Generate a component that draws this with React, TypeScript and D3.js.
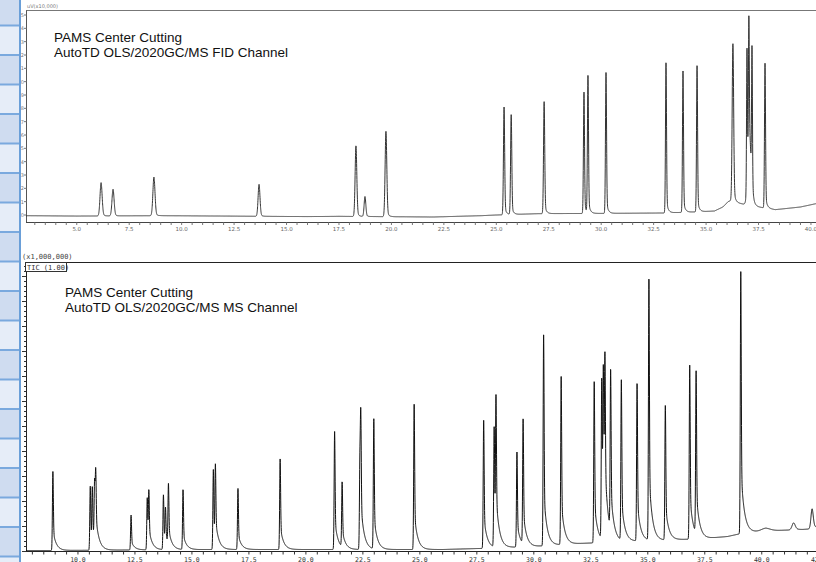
import React, { useMemo } from 'react';
import * as d3 from 'd3';

// FID channel: retention time (min), height above baseline (uV x10,000), peak sigma (min)
const fidTimes = [6.16, 6.73, 8.68, 13.69, 18.31, 18.74, 19.74, 25.37, 25.71, 27.28, 29.18, 29.37, 30.23, 33.09, 33.9, 34.57, 36.28, 36.95, 37.04, 37.19, 37.07, 37.81];
const fidHeights = [0.25, 0.2, 0.29, 0.24, 0.53, 0.15, 0.64, 0.81, 0.75, 0.84, 0.91, 1.03, 1.06, 1.13, 1.06, 1.1, 1.18, 1.02, 0.94, 1.03, 0.48, 1.09];
const fidWidths = [0.05, 0.05, 0.05, 0.045, 0.04, 0.04, 0.04, 0.028, 0.028, 0.028, 0.025, 0.025, 0.025, 0.024, 0.024, 0.024, 0.035, 0.02, 0.02, 0.02, 0.08, 0.024];
const fidBaseTimes = [2.58, 5, 9, 12, 16, 17.5, 22, 24.3, 25, 27, 30, 33, 34.8, 35.4, 35.8, 36.05, 36.2, 36.5, 37.5, 38.3, 39.5, 40.24];
const fidBaseValues = [-0.005, -0.008, -0.005, -0.008, -0.012, -0.01, -0.015, -0.005, 0, 0.01, 0.012, 0.015, 0.025, 0.03, 0.06, 0.1, 0.11, 0.09, 0.06, 0.04, 0.06, 0.085];
const fidTicks = [5, 7.5, 10, 12.5, 15, 17.5, 20, 22.5, 25, 27.5, 30, 32.5, 35, 37.5, 40];
const fidYTicks = [0, 0.1, 0.2, 0.3, 0.4, 0.5, 0.6, 0.7, 0.8, 0.9, 1.0, 1.1, 1.2, 1.3, 1.4, 1.5];

// MS channel (TIC): retention time (min), height above baseline (x1,000,000), peak sigma (min)
const msTimes = [8.9, 10.54, 10.63, 10.73, 10.78, 12.33, 13.04, 13.11, 13.75, 13.84, 13.97, 14.61, 15.94, 16.03, 17.02, 18.87, 21.26, 21.59, 22.37, 22.41, 22.98, 24.75, 27.8, 28.26, 28.34, 29.26, 29.53, 30.43, 31.2, 32.65, 32.98, 33.05, 33.12, 33.37, 33.84, 34.53, 35.05, 35.77, 36.84, 37.12, 39.08, 40.19, 41.4, 42.21];
const msHeights = [0.79, 0.64, 0.55, 0.58, 0.62, 0.35, 0.52, 0.52, 0.55, 0.35, 0.6, 0.6, 0.8, 0.75, 0.61, 0.91, 1.18, 0.65, 0.85, 1.15, 1.3, 1.46, 1.28, 1.2, 1.35, 0.95, 1.25, 2.12, 1.68, 1.62, 1.6, 1.5, 1.5, 1.6, 1.6, 1.58, 2.62, 1.35, 1.74, 1.62, 2.62, 0.03, 0.07, 0.2];
const msWidths = [0.02, 0.02, 0.02, 0.02, 0.02, 0.02, 0.02, 0.02, 0.02, 0.02, 0.02, 0.02, 0.02, 0.02, 0.02, 0.02, 0.02, 0.02, 0.02, 0.02, 0.02, 0.02, 0.02, 0.02, 0.02, 0.02, 0.02, 0.02, 0.02, 0.02, 0.02, 0.02, 0.02, 0.02, 0.02, 0.02, 0.02, 0.02, 0.02, 0.02, 0.02, 0.2, 0.07, 0.05];
const msBaseTimes = [7.72, 9, 12, 16, 20, 24, 26, 27.6, 30, 32, 34, 35.5, 36.5, 37.5, 38.5, 39.3, 40.6, 41.8, 42.38];
const msBaseValues = [-0.01, -0.01, -0.005, 0, 0, 0, 0, 0.01, 0.03, 0.06, 0.08, 0.09, 0.1, 0.11, 0.13, 0.17, 0.19, 0.2, 0.21];
const msTicks = [10, 12.5, 15, 17.5, 20, 22.5, 25, 27.5, 30, 32.5, 35, 37.5, 40, 42.5];

const W = 816;
const H = 562;

function buildTrace(
  t0: number, t1: number,
  times: number[], heights: number[], widths: number[],
  baseT: number[], baseV: number[],
  tailFrac: number, tau: number
): [number, number][] {
  const base = d3.scaleLinear().domain(baseT).range(baseV).clamp(true);
  return d3.range(t0, t1, 0.004).map(t => {
    let v = base(t);
    times.forEach((tp, i) => {
      const dt = t - tp;
      const s = widths[i];
      const g = Math.exp(-(dt * dt) / (2 * s * s));
      const main = heights[i] * (1 - tailFrac) * g;
      const tail = dt <= 0 ? heights[i] * tailFrac * g : heights[i] * tailFrac * Math.exp(-dt / tau);
      v += main + tail;
    });
    return [t, v] as [number, number];
  });
}

const App: React.FC = () => {
  const fidX = d3.scaleLinear().domain([2.58, 40.24]).range([26, W]);
  const fidY = d3.scaleLinear().domain([0, 1.5]).range([215, 15]);
  const msX = d3.scaleLinear().domain([7.72, 42.38]).range([26, W]);
  const msY = d3.scaleLinear().domain([0, 2.8]).range([549.5, 269.5]);

  const fidData = useMemo(() => buildTrace(2.58, 40.24, fidTimes, fidHeights, fidWidths, fidBaseTimes, fidBaseValues, 0.1, 0.08), []);
  const msData = useMemo(() => buildTrace(7.72, 42.38, msTimes, msHeights, msWidths, msBaseTimes, msBaseValues, 0.26, 0.14), []);

  const fidLine = d3.line<[number, number]>().x(d => fidX(d[0])).y(d => fidY(d[1]))(fidData) || '';
  const msLine = d3.line<[number, number]>().x(d => msX(d[0])).y(d => msY(d[1]))(msData) || '';

  const fidMinor = d3.range(3, 40.3, 0.5);
  const msMinor = d3.range(8, 42.4, 0.5);
  const msYMinor = d3.range(-0.02, 2.87, 0.05);

  // left strip cells
  const stripLines = d3.range(0, 19).map(i => 25.5 + i * 29.5);
  const cellTops = [-4, ...stripLines];

  const title = { fontFamily: '"Liberation Sans", Arial, sans-serif', fontSize: 13.5, fill: '#111' };

  return (
    <svg width={W} height={H} style={{ position: 'absolute', left: 0, top: 0, background: '#fff' }}>
      {/* FID chart */}
      <line x1={26} x2={W} y1={10.5} y2={10.5} stroke="#777" />
      <line x1={26.5} x2={26.5} y1={10.5} y2={222.5} stroke="#555" />
      <line x1={26} x2={W} y1={222.5} y2={222.5} stroke="#444" />
      {fidYTicks.map(v => (
        <g key={'fy' + v}>
          <line x1={24} x2={26.5} y1={fidY(v)} y2={fidY(v)} stroke="#777" />
          <text x={24} y={fidY(v) + 2} fontSize={5} textAnchor="end" fill="#777" fontFamily="DejaVu Sans">{v.toFixed(1)}</text>
        </g>
      ))}
      {fidMinor.map(t => (
        <line key={'fm' + t} x1={fidX(t)} x2={fidX(t)} y1={222.5} y2={225} stroke="#777" />
      ))}
      {fidTicks.map(t => (
        <text key={'ft' + t} x={fidX(t)} y={231} fontSize={5.5} textAnchor="middle" fill="#666" fontFamily="DejaVu Sans">{t.toFixed(1)}</text>
      ))}
      <text x={27} y={8} fontSize={5} fill="#777" fontFamily="DejaVu Sans">uV(x10,000)</text>
      <path d={fidLine} fill="none" stroke="#333" strokeWidth={1} />
      <text x={54} y={42} {...title}>PAMS Center Cutting</text>
      <text x={54} y={57} {...title}>AutoTD OLS/2020GC/MS FID Channel</text>

      {/* MS chart */}
      <line x1={26} x2={W} y1={262.5} y2={262.5} stroke="#222" />
      <line x1={26.5} x2={26.5} y1={262.5} y2={551.5} stroke="#222" />
      <line x1={26} x2={W} y1={551.5} y2={551.5} stroke="#222" />
      {msYMinor.map((v, i) => (
        <line key={'my' + i} x1={i % 5 === 0 ? 22 : 24} x2={26.5} y1={msY(v)} y2={msY(v)} stroke="#333" />
      ))}
      {msMinor.map(t => (
        <line key={'mm' + t} x1={msX(t)} x2={msX(t)} y1={551.5} y2={554.5} stroke="#333" />
      ))}
      {msTicks.map(t => (
        <text key={'mt' + t} x={msX(t)} y={561.5} fontSize={6.5} textAnchor="middle" fill="#333" fontFamily="DejaVu Sans Mono">{t.toFixed(1)}</text>
      ))}
      <text x={22} y={259} fontSize={7} fill="#444" fontFamily="DejaVu Sans Mono">(x1,000,000)</text>
      <rect x={25.5} y={262.5} width={41} height={9} fill="#fff" stroke="#333" />
      <text x={27} y={269.5} fontSize={7} fill="#333" fontFamily="DejaVu Sans Mono">TIC (1.00)</text>
      <path d={msLine} fill="none" stroke="#111" strokeWidth={1} />
      <text x={65} y={297} {...title}>PAMS Center Cutting</text>
      <text x={65} y={312} {...title}>AutoTD OLS/2020GC/MS MS Channel</text>

      {/* left strip */}
      {cellTops.map((y0, i) => (
        <rect key={'c' + i} x={0} y={y0} width={20} height={29.5} fill={i % 2 === 0 ? '#cfdcf0' : '#e6edf8'} />
      ))}
      {stripLines.map((y, i) => (
        <line key={'s' + i} x1={0} x2={20} y1={y} y2={y} stroke="#7aa9de" strokeWidth={2} />
      ))}
      <line x1={20} x2={20} y1={0} y2={H} stroke="#6a9fd8" strokeWidth={2} />
    </svg>
  );
};

export default App;
